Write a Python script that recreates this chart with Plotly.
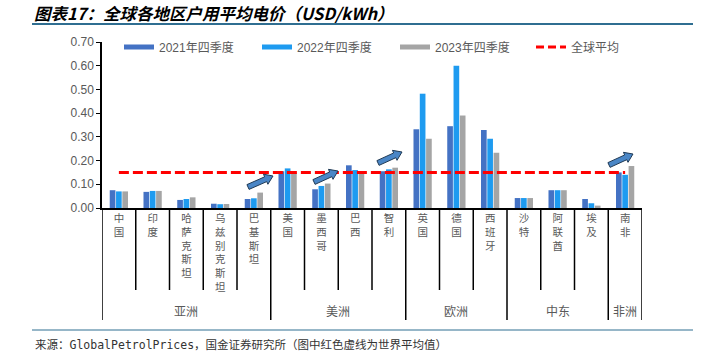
import math
import plotly.graph_objects as go

# ---------------- data ----------------
regions = ["亚洲", "美洲", "欧洲", "中东", "非洲"]
region_counts = [5, 4, 3, 3, 1]
countries = ["中国", "印度", "哈萨克斯坦", "乌兹别克斯坦", "巴基斯坦",
             "美国", "墨西哥", "巴西", "智利",
             "英国", "德国", "西班牙",
             "沙特", "阿联酋", "埃及",
             "南非"]
q4_2021 = [0.075, 0.068, 0.034, 0.018, 0.038, 0.155, 0.079, 0.180, 0.155,
           0.332, 0.345, 0.329, 0.042, 0.075, 0.038, 0.150]
q4_2022 = [0.070, 0.072, 0.038, 0.016, 0.041, 0.167, 0.093, 0.160, 0.163,
           0.482, 0.600, 0.292, 0.042, 0.075, 0.020, 0.140]
q4_2023 = [0.070, 0.072, 0.045, 0.017, 0.065, 0.149, 0.103, 0.150, 0.170,
           0.292, 0.390, 0.233, 0.042, 0.075, 0.010, 0.177]
global_avg = 0.15
series_names = ["2021年四季度", "2022年四季度", "2023年四季度"]
avg_name = "全球平均"
y_ticks = [0.0, 0.1, 0.2, 0.3, 0.4, 0.5, 0.6, 0.7]

title_text = "图表17：全球各地区户用平均电价（USD/kWh）"
source_text = "来源：GlobalPetrolPrices，国金证券研究所（图中红色虚线为世界平均值）"

# ---------------- layout constants ----------------
W, H = 718, 363
PLOT_X0, PLOT_X1, PLOT_Y0, PLOT_Y1 = 102, 642, 42, 208
L, T = PLOT_X0, PLOT_Y0
R, B = W - PLOT_X1, H - PLOT_Y1
PW, PH = PLOT_X1 - PLOT_X0, PLOT_Y1 - PLOT_Y0

colors = ["#4472C4", "#1E9BF0", "#A5A5A5"]
gray_txt = "#595959"
cjk = "Noto Sans CJK SC"
latin = "Liberation Sans, Arial, Noto Sans CJK SC"


def fx(px):
    return (px - PLOT_X0) / PW


def fy(py):
    return (PLOT_Y1 - py) / PH


fig = go.Figure()

for name, vals, c in zip(series_names, [q4_2021, q4_2022, q4_2023], colors):
    fig.add_trace(go.Bar(x=countries, y=vals, name=name, marker_color=c,
                         marker_line_width=0, showlegend=False))

fig.add_trace(go.Scatter(x=countries, y=[global_avg] * len(countries),
                         mode="lines", name=avg_name, showlegend=False,
                         line=dict(color="#FF0000", width=3, dash="10px,4px")))

# legend proxies (line-style symbols)
for name, c in zip(series_names, colors):
    fig.add_trace(go.Scatter(x=[None], y=[None], mode="lines", name=name,
                             line=dict(color=c, width=5), legend="legend"))
fig.add_trace(go.Scatter(x=[None], y=[None], mode="lines", name=avg_name,
                         line=dict(color="#FF0000", width=3, dash="8px,4px"),
                         legend="legend2"))

vert_labels = ["<br>".join(list(c)) for c in countries]

shapes = []
bounds_long = [-0.5]
acc = -0.5
for n in region_counts:
    acc += n
    bounds_long.append(acc)
for i in range(len(countries) + 1):
    b = i - 0.5
    is_long = any(abs(b - bl) < 1e-9 for bl in bounds_long)
    shapes.append(dict(type="line", xref="x", yref="paper", x0=b, x1=b,
                       y0=0, y1=fy(320 if is_long else 290),
                       line=dict(color="black", width=1.5)))

shapes.append(dict(type="line", xref="paper", yref="paper", x0=fx(32), x1=fx(693),
                   y0=fy(24), y1=fy(24), line=dict(color="#2F6E91", width=2)))
shapes.append(dict(type="line", xref="paper", yref="paper", x0=fx(32), x1=fx(693),
                   y0=fy(330), y1=fy(330), line=dict(color="#2F6E91", width=1)))


def block_arrow(p0, p1, hw=2.6, hhw=5.5, hl=8):
    dx, dy = p1[0] - p0[0], p1[1] - p0[1]
    ln = math.hypot(dx, dy)
    ux, uy = dx / ln, dy / ln
    nx, ny = -uy, ux
    bx, by = p1[0] - ux * hl, p1[1] - uy * hl
    pts = [(p0[0] + nx * hw, p0[1] + ny * hw), (bx + nx * hw, by + ny * hw),
           (bx + nx * hhw, by + ny * hhw), p1,
           (bx - nx * hhw, by - ny * hhw), (bx - nx * hw, by - ny * hw),
           (p0[0] - nx * hw, p0[1] - ny * hw)]
    path = "M " + " L ".join(f"{fx(x):.5f},{fy(y):.5f}" for x, y in pts) + " Z"
    return dict(type="path", xref="paper", yref="paper", path=path,
                fillcolor="#4A86C6", line=dict(color="#203A55", width=1))


arrows = [((248, 187), (273, 176)), ((314, 182), (338, 171)),
          ((378, 163), (402, 152)), ((609, 165), (633, 154))]
for a0, a1 in arrows:
    shapes.append(block_arrow(a0, a1))

annotations = []
acc = 0
for reg, n in zip(regions, region_counts):
    center = acc + (n - 1) / 2
    annotations.append(dict(x=center, y=fy(310), xref="x", yref="paper",
                            text=reg, showarrow=False, yanchor="middle",
                            font=dict(family=cjk, size=12, color=gray_txt)))
    acc += n

annotations.append(dict(x=fx(33), y=fy(12.5), xref="paper", yref="paper",
                        xanchor="left", yanchor="middle", showarrow=False,
                        borderpad=0,
                        text=f"<b><i>{title_text}</i></b>",
                        font=dict(family=cjk, size=16.5, color="black")))
annotations.append(dict(x=fx(33), y=fy(345), xref="paper", yref="paper",
                        xanchor="left", yanchor="middle", showarrow=False,
                        text=source_text,
                        font=dict(family="DejaVu Sans Mono, Noto Sans CJK SC",
                                  size=11.5, color="#333333")))

legend_common = dict(orientation="h", xref="container", yref="container",
                     y=1 - 47 / H, xanchor="left", yanchor="middle",
                     bgcolor="rgba(0,0,0,0)",
                     font=dict(family=latin, size=12, color=gray_txt),
                     tracegroupgap=0, itemwidth=30)

fig.update_layout(
    width=W, height=H,
    margin=dict(l=L, r=R, t=T, b=B, autoexpand=False),
    paper_bgcolor="white", plot_bgcolor="white",
    barmode="group", bargap=0.44, bargroupgap=0.1,
    showlegend=True,
    legend=dict(x=119 / W, entrywidth=93, **legend_common),
    legend2=dict(x=531 / W, **legend_common),
    shapes=shapes, annotations=annotations,
    xaxis=dict(type="category", range=[-0.5, len(countries) - 0.5],
               showline=True, linecolor="black", linewidth=1.5,
               ticks="", showgrid=False, tickmode="array",
               tickvals=countries, ticktext=vert_labels,
               tickfont=dict(family=cjk, size=10.5, color=gray_txt)),
    yaxis=dict(range=[0, 0.7], tickmode="array", tickvals=y_ticks,
               tickformat=".2f", showline=True, linecolor="black",
               linewidth=1.5, ticks="outside", ticklen=4, tickcolor="black",
               showgrid=False, zeroline=False,
               tickfont=dict(family=latin, size=12, color=gray_txt)),
)

fig.write_html("out.html", config={"displayModeBar": False},
               post_script="document.body.style.margin='0';")
